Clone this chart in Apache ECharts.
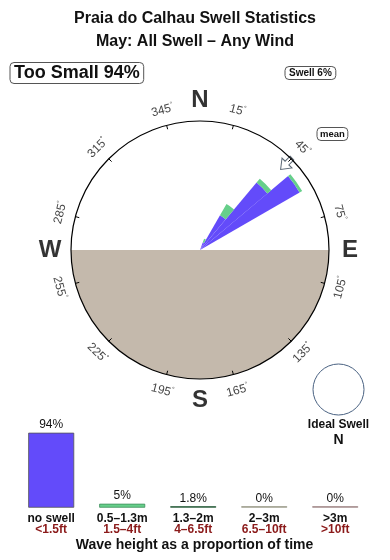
<!DOCTYPE html>
<html><head><meta charset="utf-8">
<script src="https://cdn.jsdelivr.net/npm/echarts@6.0.0/dist/echarts.min.js"></script>
<style>html,body{margin:0;padding:0;background:#fff}#c{width:390px;height:560px}</style>
</head><body><div id="c"></div>
<script>
const FONT = '"Liberation Sans", Arial, Helvetica, sans-serif';

// ---- text ----
const titleLines = ['Praia do Calhau Swell Statistics', 'May: All Swell \u2013 Any Wind'];
const tooSmallText = 'Too Small 94%';
const swellText = 'Swell 6%';
const meanText = 'mean';
const idealSwellTitle = 'Ideal Swell';
const idealSwellDir = 'N';
const heightAxisTitle = 'Wave height as a proportion of time';

// ---- swell rose ----
const roseBinSize = 10;                 // degrees per wedge
const roseDirs  = [25, 35, 45, 55];     // wedge centre directions
const roseSmall = [8, 40, 88, 115];     // blue part length
const roseMid   = [4, 13, 5, 3];        // green part length
const roseMax   = 129;
const degreeTicks = [15, 45, 75, 105, 135, 165, 195, 225, 255, 285, 315, 345];
const cardinalNames = ['N', 'E', 'S', 'W'];
const cardinalDirs  = [0, 90, 180, 270];
const meanDir = 45;

// ---- wave height distribution ----
const heightCats = ['no swell', '0.5\u20131.3m', '1.3\u20132m', '2\u20133m', '>3m'];
const heightFeet = ['<1.5ft', '1.5\u20134ft', '4\u20136.5ft', '6.5\u201310ft', '>10ft'];
const heightPct  = [94, 5, 1.8, 0, 0];
const heightColors  = ['#634bfa', '#66cf8a', '#3f7d52', '#b6b6a6', '#c2aaaa'];
const heightBorders = ['#555555', '#3e8e5c', '#2f5f3f', '#9a9a8a', '#a08888'];

// geometry (layout)
const CX = 200, CY = 250, R = 129, LABEL_R = 150;

const nBins = 360 / roseBinSize;
const binNames = Array.from({length: nBins}, (_, i) => String(i * roseBinSize));
const smallData = binNames.map(() => '-');
const midData = binNames.map(() => '-');
roseDirs.forEach((d, k) => {
  const i = Math.floor(d / roseBinSize);
  smallData[i] = roseSmall[k];
  midData[i] = roseMid[k];
});

function tilt(d) { return ((d + 90) % 180) - 90; }

const labelData = degreeTicks.map(d => ({
  value: [145, d],
  label: {formatter: '{n|' + d + '}{d|\u00b0}', rotate: -tilt(d)}
})).concat(cardinalNames.map((n, k) => ({
  value: [150, cardinalDirs[k]],
  label: {formatter: '{c|' + n + '}', rotate: 0}
})));

const chart = echarts.init(document.getElementById('c'), null, {renderer: 'canvas'});
chart.setOption({
  animation: false,
  backgroundColor: '#fff',
  textStyle: {fontFamily: FONT},
  polar: [
    {center: [CX, CY], radius: R},
    {center: [CX, CY], radius: R},
    {center: [CX, CY], radius: LABEL_R}
  ],
  angleAxis: [
    {polarIndex: 0, type: 'value', min: 0, max: 360, interval: 30, startAngle: 75, clockwise: true, z: 10,
     axisLine: {show: true, lineStyle: {color: '#000', width: 1.2}},
     axisTick: {show: true, inside: true, length: 4, lineStyle: {color: '#000', width: 1}},
     axisLabel: {show: false}, splitLine: {show: false}},
    {polarIndex: 1, type: 'category', data: binNames, startAngle: 90, clockwise: true, show: false},
    {polarIndex: 2, type: 'value', min: 0, max: 360, startAngle: 90, clockwise: true, show: false}
  ],
  radiusAxis: [
    {polarIndex: 0, type: 'value', min: 0, max: 1, show: false},
    {polarIndex: 1, type: 'value', min: 0, max: roseMax, show: false},
    {polarIndex: 2, type: 'value', min: 0, max: LABEL_R, show: false}
  ],
  grid: {left: 15.7, right: 19.3, top: 432.7, bottom: 52.3},
  xAxis: {
    type: 'category', data: heightCats,
    axisLine: {show: false}, axisTick: {show: false},
    axisLabel: {
      interval: 0, margin: 5,
      formatter: (v, i) => '{a|' + v + '}\n{b|' + heightFeet[i] + '}',
      rich: {
        a: {fontSize: 12, fontWeight: 'bold', color: '#111', lineHeight: 11, fontFamily: FONT},
        b: {fontSize: 12, fontWeight: 'bold', color: '#8b1a1a', lineHeight: 11, fontFamily: FONT}
      }
    }
  },
  yAxis: {type: 'value', min: 0, max: 94, show: false},
  series: [
    {type: 'bar', coordinateSystem: 'polar', polarIndex: 1, stack: 'rose', data: smallData,
     barCategoryGap: '0%', itemStyle: {color: '#634bfa'}, z: 3},
    {type: 'bar', coordinateSystem: 'polar', polarIndex: 1, stack: 'rose', data: midData,
     barCategoryGap: '0%', itemStyle: {color: '#66cf8a'}, z: 3},
    {type: 'scatter', coordinateSystem: 'polar', polarIndex: 2, data: labelData,
     symbolSize: 1, itemStyle: {color: 'rgba(0,0,0,0)'}, z: 5,
     label: {show: true, position: 'inside', color: '#111', fontFamily: FONT,
       rich: {
         n: {fontSize: 12, lineHeight: 13, color: '#111', fontFamily: FONT, verticalAlign: 'bottom'},
         d: {fontSize: 7, lineHeight: 13, color: '#111', fontFamily: FONT, verticalAlign: 'top', padding: [0, 0, 6, 0]},
         c: {fontSize: 24, fontWeight: 'bold', color: '#000', fontFamily: FONT}
       }}},
    {type: 'scatter', coordinateSystem: 'polar', polarIndex: 2, data: [[122, meanDir]],
     symbol: 'path://M-3,-8 L3,-8 L3,-1 L8,-1 L0,8 L-8,-1 L-3,-1 Z', symbolSize: [14, 16],
     symbolRotate: -meanDir, z: 6,
     itemStyle: {color: '#fff', borderColor: '#2f4050', borderWidth: 1}},
    {type: 'bar', data: heightPct.map((v, i) => ({value: v, itemStyle: {color: heightColors[i], borderColor: heightBorders[i], borderWidth: 0.8}})),
     barWidth: 46, barMinHeight: 1.5,
     label: {show: true, position: 'top', distance: 2, formatter: p => p.value + '%', fontSize: 12, color: '#111', fontFamily: FONT}}
  ],
  graphic: [
    {type: 'sector', z: 1, shape: {cx: CX, cy: CY, r: R, r0: 0, startAngle: 0, endAngle: Math.PI}, style: {fill: '#c4b9ac'}},
    {type: 'text', z: 20, style: {text: titleLines[0], x: 195, y: 19, align: 'center', verticalAlign: 'middle', font: 'bold 16px ' + FONT, fill: '#111'}},
    {type: 'text', z: 20, style: {text: titleLines[1], x: 195, y: 42, align: 'center', verticalAlign: 'middle', font: 'bold 16px ' + FONT, fill: '#111'}},
    {type: 'text', z: 20, style: {text: tooSmallText, x: 10, y: 73, align: 'left', verticalAlign: 'middle', font: 'bold 18px ' + FONT, fill: '#111',
      padding: [2, 4, 1, 4], borderColor: '#555', borderWidth: 1, borderRadius: 4}},
    {type: 'text', z: 20, style: {text: swellText, x: 285, y: 73, align: 'left', verticalAlign: 'middle', font: 'bold 10px ' + FONT, fill: '#111',
      padding: [2, 4, 1, 4], borderColor: '#555', borderWidth: 1, borderRadius: 4}},
    {type: 'text', z: 20, style: {text: meanText, x: 317, y: 134, align: 'left', verticalAlign: 'middle', font: 'bold 9.5px ' + FONT, fill: '#111',
      padding: [2, 3, 1, 3], borderColor: '#555', borderWidth: 1, borderRadius: 4}},
    {type: 'circle', z: 20, shape: {cx: 338.5, cy: 389.5, r: 25.5}, style: {fill: '#fff', stroke: '#4a6282', lineWidth: 1}},
    {type: 'text', z: 20, style: {text: idealSwellTitle, x: 338.5, y: 425, align: 'center', verticalAlign: 'middle', font: 'bold 12px ' + FONT, fill: '#111'}},
    {type: 'text', z: 20, style: {text: idealSwellDir, x: 338.5, y: 440, align: 'center', verticalAlign: 'middle', font: 'bold 14px ' + FONT, fill: '#111'}},
    {type: 'text', z: 20, style: {text: heightAxisTitle, x: 194.5, y: 545, align: 'center', verticalAlign: 'middle', font: 'bold 14px ' + FONT, fill: '#111'}}
  ]
});
</script>
</body></html>
